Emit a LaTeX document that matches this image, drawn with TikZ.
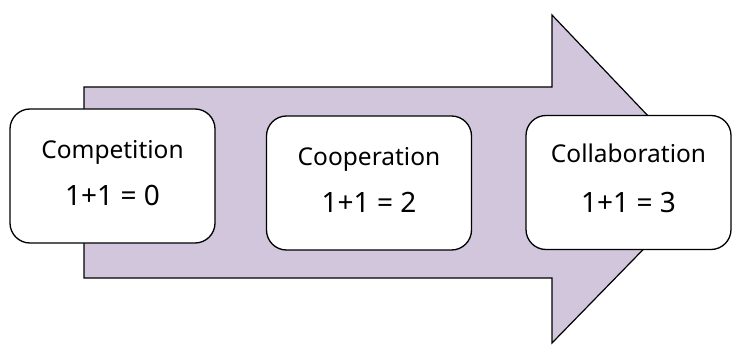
\documentclass[tikz,border=0pt]{standalone}
\usepackage{fontspec}
\setmainfont{Noto Sans}
\definecolor{lav}{HTML}{D1C6DC}
\begin{document}
\begin{tikzpicture}[x=1pt,y=-1pt,
  box/.style={draw=black,line width=1.3pt,fill=white,rounded corners=20pt,
    minimum width=205pt,minimum height=134pt,inner sep=0pt,align=center},
  top/.style={font=\fontsize{24.5}{24.5}\selectfont},
  bot/.style={font=\fontsize{28}{28}\selectfont}]
\useasboundingbox (0,0) rectangle (732,345);
\draw[fill=lav,line width=1.2pt,line join=miter]
  (84,87) -- (552,87) -- (552,15) -- (710,181) -- (552,343) -- (552,278) -- (84,278) -- cycle;
\node[box] (b1) at (112.5,176) {};
\node[box] (b2) at (369,183) {};
\node[box] (b3) at (628.5,182.5) {};
\node[top,anchor=base] (t1) at (112.5,158) {Competition};
\node[bot,anchor=base] (n1) at (112.5,205) {1+1 = 0};
\node[top,anchor=base] (t2) at (369,165) {Cooperation};
\node[bot,anchor=base] (n2) at (369,212) {1+1 = 2};
\node[top,anchor=base] (t3) at (628.5,163) {Collaboration};
\node[bot,anchor=base] (n3) at (628.5,212) {1+1 = 3};
\end{tikzpicture}
\end{document}
